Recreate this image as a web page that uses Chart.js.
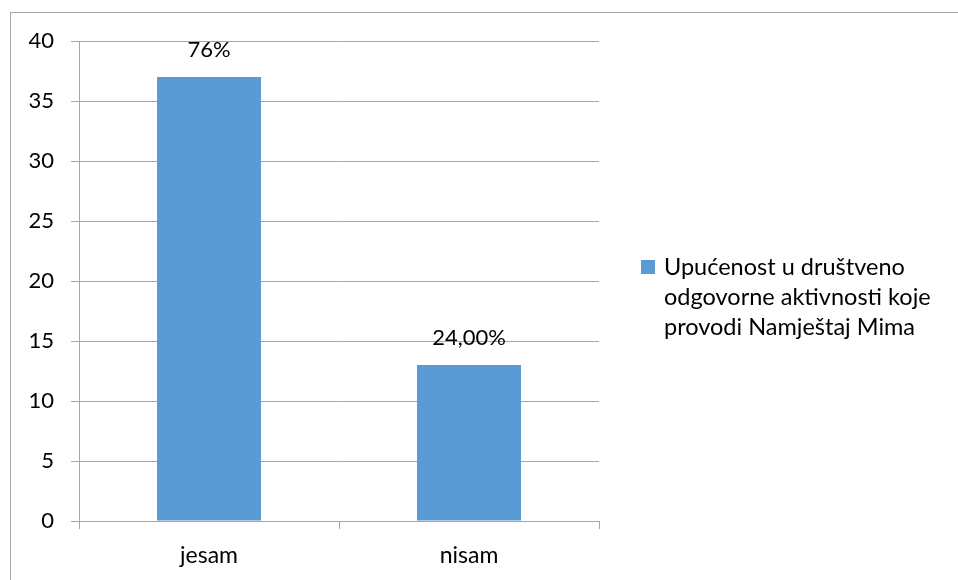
<!DOCTYPE html>
<html>
<head>
<meta charset="utf-8">
<script src="https://cdn.jsdelivr.net/npm/chart.js@4.4.1/dist/chart.umd.min.js"></script>
<style>
  html, body { margin: 0; padding: 0; background: #fff; overflow: hidden; }
  #wrap { position: relative; width: 958px; height: 580px; }
  #frame { position: absolute; left: 10px; top: 12px; width: 1000px; height: 700px; border: 1px solid #a6a6a6; box-sizing: border-box; pointer-events: none; }
  canvas { position: absolute; left: 0; top: 0; }
</style>
</head>
<body>
<div id="wrap">
  <canvas id="c" width="958" height="580"></canvas>
  <div id="frame"></div>
</div>
<script>
const categories = ["jesam", "nisam"];
const values = [37, 13];
const valueLabels = ["76%", "24,00%"];
const seriesName = "Upućenost u društveno odgovorne aktivnosti koje provodi Namještaj Mima";
const legendLines = ["Upućenost u društveno", "odgovorne aktivnosti koje", "provodi Namještaj Mima"];
const yTicks = [0, 5, 10, 15, 20, 25, 30, 35, 40];

const FONT = "Lato, 'Open Sans', sans-serif";
const BAR = "#5b9bd5";
const GRID = "#a6a6a6";

const extras = {
  id: "extras",
  afterDatasetsDraw(chart) {
    const ctx = chart.ctx;
    const meta = chart.getDatasetMeta(0);
    ctx.save();
    ctx.fillStyle = "#000";
    ctx.font = "22px " + FONT;
    ctx.textAlign = "center";
    ctx.textBaseline = "alphabetic";
    meta.data.forEach((bar, i) => {
      ctx.fillText(valueLabels[i], bar.x, bar.y - 20);
    });
    // legend
    ctx.fillStyle = BAR;
    ctx.fillRect(641, 260, 14, 14);
    ctx.fillStyle = "#000";
    ctx.font = "23.5px " + FONT;
    ctx.textAlign = "left";
    ctx.textBaseline = "alphabetic";
    legendLines.forEach((t, i) => ctx.fillText(t, 664, 275 + i * 30));
    ctx.restore();
  }
};

new Chart(document.getElementById("c"), {
  type: "bar",
  data: {
    labels: categories,
    datasets: [{
      label: seriesName,
      data: values,
      backgroundColor: BAR,
      borderWidth: 0,
      categoryPercentage: 1.0,
      barPercentage: 0.4
    }]
  },
  options: {
    responsive: false,
    animation: false,
    layout: { padding: { left: 0, right: 359, top: 41, bottom: 0 } },
    plugins: { legend: { display: false }, tooltip: { enabled: false } },
    scales: {
      x: {
        offset: true,
        grid: { display: true, drawOnChartArea: false, drawTicks: true, tickLength: 8, color: GRID, offset: true },
        border: { display: true, color: GRID, width: 1 },
        ticks: { color: "#000", font: { family: FONT, size: 23 }, padding: 13, maxRotation: 0 },
        afterFit: s => { s.height = 59; }
      },
      y: {
        min: 0, max: 40,
        afterBuildTicks: s => { s.ticks = yTicks.map(v => ({ value: v })); },
        grid: { color: GRID, tickLength: 8, drawTicks: true },
        border: { display: true, color: GRID, width: 1 },
        ticks: { color: "#000", font: { family: FONT, size: 22 }, padding: 17 },
        afterFit: s => { s.width = 79; }
      }
    }
  },
  plugins: [extras]
});
</script>
</body>
</html>
